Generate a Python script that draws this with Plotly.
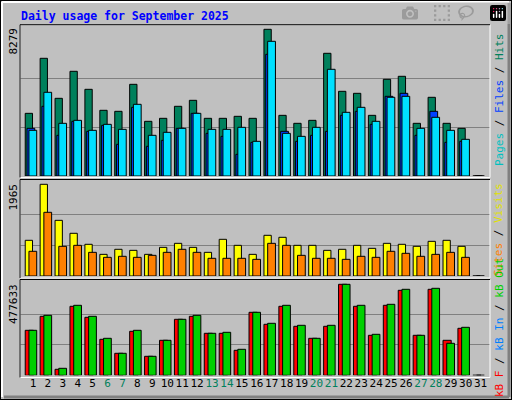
import plotly.graph_objects as go

days = list(range(1, 32))
hits = [3537,6642,4384,5908,4892,3707,3650,5174,3086,3255,3933,4271,3255,3255,3368,3255,8279,3424,2973,3142,6924,4779,4666,3424,5457,5626,2973,4441,2973,2691,0]
files = [2578,4723,2973,3142,2578,2916,2634,4045,2296,2465,2691,3537,2634,2634,2747,1957,7602,2408,2239,2747,6021,3594,3876,3086,4441,4497,2691,3312,2578,2070,0]
pages = [2691,3933,2296,3086,2521,2860,1788,3876,1675,2013,2691,3537,2408,2239,1223,1900,6868,2521,1957,2296,2521,3424,3650,2916,4497,4666,2296,3650,1900,1957,0]
visits = [765,1965,1193,915,679,464,572,550,464,614,700,614,507,786,657,464,872,829,657,657,550,572,657,593,700,679,636,743,765,636,0]
sites = [529,1365,636,657,507,400,422,400,443,507,572,507,379,379,379,357,700,657,443,379,379,357,422,400,529,486,422,464,507,400,0]
kb_in = [236196,314928,36742,367416,309679,194206,115474,236196,99727,183708,293933,314928,220450,225698,136469,330674,272938,367416,262440,194206,262440,477633,367416,215201,372665,451397,209952,456646,167962,251942,0]
kb_f = [236196,309679,31493,362167,304430,188957,115474,230947,99727,183708,293933,309679,220450,220450,131220,330674,267689,362167,257191,194206,257191,477633,362167,209952,367416,446148,209952,451397,183708,246693,0]
weekend = {6,7,13,14,20,21,27,28}

MAXH, MAXV, MAXK = 8279, 1965, 477633
FONT = "DejaVu Sans Mono"
line = dict(color="black", width=1)

fig = go.Figure()
def bar(y, color, off, w, ax):
    fig.add_trace(go.Bar(x=days, y=y, marker=dict(color=color, line=line),
                         offset=off, width=w, xaxis="x" + ax, yaxis="y" + ax,
                         showlegend=False, hoverinfo="skip"))
bar(hits, "#00805c", -0.52, 0.49, "")
bar(pages, "#0040ff", -0.40, 0.52, "")
bar(files, "#00e0ff", -0.27, 0.52, "")
bar(visits, "#ffff00", -0.52, 0.49, "2")
bar(sites, "#ff8000", -0.27, 0.52, "2")
bar(kb_f, "#ff0000", -0.52, 0.55, "3")
bar(kb_in, "#00d000", -0.27, 0.52, "3")

xd = [20/512, 490/512]
xr = [0.13, 31.63]
ticktext = [f'<span style="color:{"#00805c" if d in weekend else "black"}">{d}</span>' for d in days]
def yax(dom, top, mx):
    return dict(domain=dom, range=[0, top], tickvals=[mx/3, 2*mx/3], showticklabels=False,
                showgrid=True, gridcolor="#808080", gridwidth=1, zeroline=False, fixedrange=True)
def xax(anchor, labels=False):
    d = dict(domain=xd, range=xr, showgrid=False, zeroline=False, anchor=anchor, fixedrange=True,
             tickvals=days, ticks="", showticklabels=labels)
    if labels:
        d.update(ticktext=ticktext, tickangle=0, tickfont=dict(family=FONT, size=11, color="black"))
    return d

fig.update_layout(
    width=512, height=400, margin=dict(l=0, r=0, t=0, b=0),
    paper_bgcolor="#c0c0c0", plot_bgcolor="#c0c0c0", barmode="overlay",
    xaxis=xax("y"), xaxis2=xax("y2"), xaxis3=xax("y3", True),
    yaxis=yax([1-176/400, 1-24.7/400], MAXH*151.3/146.7, MAXH),
    yaxis2=yax([1-276/400, 1-180/400], MAXV*96/91.7, MAXV),
    yaxis3=yax([1-375.3/400, 1-280/400], MAXK*95.3/91, MAXK),
)

shapes = []
shapes.append(dict(type="rect", xref="paper", yref="paper", x0=0, y0=0, x1=1, y1=1,
                   line=dict(color="black", width=2)))
shapes.append(dict(type="line", xref="paper", yref="paper", x0=2/512, x1=509/512, y0=1-2/400, y1=1-2/400, line=dict(color="white", width=2)))
shapes.append(dict(type="line", xref="paper", yref="paper", x0=2/512, x1=2/512, y0=3/400, y1=1-2/400, line=dict(color="white", width=2)))
shapes.append(dict(type="line", xref="paper", yref="paper", x0=4/512, x1=509/512, y0=3/400, y1=3/400, line=dict(color="#808080", width=3)))
shapes.append(dict(type="line", xref="paper", yref="paper", x0=509/512, x1=509/512, y0=3/400, y1=1-3/400, line=dict(color="#808080", width=3)))
for top, bot in [(24.7, 177.5), (179.5, 278), (279.5, 377.5)]:
    shapes.append(dict(type="rect", xref="paper", yref="paper", x0=20/512, x1=490/512,
                       y0=1-bot/400, y1=1-top/400, line=dict(color="white", width=1)))
    shapes.append(dict(type="line", xref="paper", yref="paper", x0=20/512, x1=490/512,
                       y0=1-top/400, y1=1-top/400, line=dict(color="black", width=1)))
    shapes.append(dict(type="line", xref="paper", yref="paper", x0=20/512, x1=20/512,
                       y0=1-bot/400, y1=1-top/400, line=dict(color="black", width=1)))
fig.update_layout(shapes=shapes)

ann = []
ann.append(dict(text="<b>Daily usage for September 2025</b>", x=19/512, y=1-16/400, xref="paper", yref="paper",
                xanchor="left", yanchor="middle", showarrow=False, font=dict(family=FONT, size=11.5, color="#0000ff")))
for label, ytop in [(str(MAXH), 26), (str(MAXV), 182), (str(MAXK), 282)]:
    ann.append(dict(text=label, x=13/512, y=1-ytop/400, xref="paper", yref="paper", textangle=-90,
                    xanchor="center", yanchor="top", showarrow=False, font=dict(family=FONT, size=11, color="black")))
def sp(t, c): return f'<span style="color:{c}">{t}</span>'
legends = [
    (sp("Pages", "#00c0c0") + sp(" / ", "#000000") + sp("Files", "#0040ff") + sp(" / ", "#000000") + sp("Hits", "#00805c"), 100),
    (sp("Sites", "#ff8000") + sp(" / ", "#000000") + sp("Visits", "#e0e000"), 230),
    (sp("kB F", "#ff0000") + sp(" / ", "#000000") + sp("kB In", "#0080ff") + sp(" / ", "#000000") + sp("kB Out", "#00d000"), 328),
]
for t, yc in legends:
    ann.append(dict(text=t, x=499/512, y=1-yc/400, xref="paper", yref="paper", textangle=-90,
                    xanchor="center", yanchor="middle", showarrow=False, font=dict(family=FONT, size=11)))
fig.update_layout(annotations=ann)

fig.write_html("out.html", post_script="document.body.style.margin='0';document.body.style.overflow='hidden';")
